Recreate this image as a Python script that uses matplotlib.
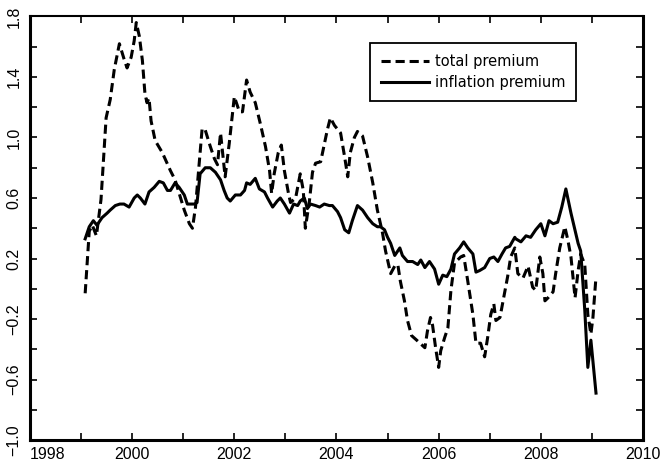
import matplotlib
matplotlib.use('Agg')
import matplotlib.pyplot as plt
from matplotlib.ticker import MultipleLocator, FixedLocator

# total premium (dashed)
total_t = [1999.08, 1999.16, 1999.22, 1999.30, 1999.39, 1999.49, 1999.57, 1999.65, 1999.75, 1999.84,
           1999.90, 1999.98, 2000.04, 2000.08, 2000.14, 2000.20, 2000.25, 2000.29, 2000.33, 2000.37,
           2000.45, 2000.59, 2000.75, 2000.84, 2000.92, 2001.02, 2001.12, 2001.18, 2001.24, 2001.37,
           2001.43, 2001.53, 2001.61, 2001.67, 2001.73, 2001.78, 2001.82, 2001.90, 2002.00, 2002.10,
           2002.16, 2002.24, 2002.31, 2002.41, 2002.51, 2002.61, 2002.69, 2002.73, 2002.78, 2002.86,
           2002.92, 2002.98, 2003.06, 2003.10, 2003.20, 2003.29, 2003.35, 2003.39, 2003.47, 2003.53,
           2003.59, 2003.69, 2003.82, 2003.88, 2003.96, 2004.08, 2004.16, 2004.22, 2004.27, 2004.35,
           2004.41, 2004.51, 2004.61, 2004.71, 2004.80, 2004.90, 2004.96, 2005.06, 2005.14, 2005.20,
           2005.25, 2005.33, 2005.39, 2005.47, 2005.57, 2005.73, 2005.78, 2005.84, 2005.88, 2005.94,
           2006.00, 2006.04, 2006.12, 2006.18, 2006.24, 2006.31, 2006.37, 2006.43, 2006.49, 2006.57,
           2006.67, 2006.73, 2006.82, 2006.90, 2006.96, 2007.02, 2007.08, 2007.12, 2007.20, 2007.29,
           2007.35, 2007.41, 2007.49, 2007.55, 2007.65, 2007.75, 2007.84, 2007.90, 2007.98, 2008.04,
           2008.08, 2008.14, 2008.24, 2008.29, 2008.37, 2008.47, 2008.53, 2008.59, 2008.67, 2008.73,
           2008.78, 2008.86, 2008.92, 2008.98, 2009.02, 2009.08]
total_v = [-0.03, 0.38, 0.42, 0.35, 0.59, 1.13, 1.25, 1.45, 1.62, 1.52,
           1.46, 1.53, 1.64, 1.76, 1.67, 1.51, 1.29, 1.23, 1.26, 1.11,
           0.98, 0.90, 0.78, 0.72, 0.63, 0.52, 0.43, 0.40, 0.54, 1.06,
           1.05, 0.94, 0.86, 0.82, 1.03, 0.87, 0.74, 0.96, 1.27, 1.17,
           1.17, 1.38, 1.30, 1.23, 1.09, 0.94, 0.78, 0.63, 0.76, 0.90,
           0.95, 0.78, 0.63, 0.57, 0.60, 0.76, 0.65, 0.40, 0.58, 0.77,
           0.83, 0.84, 1.05, 1.13, 1.08, 1.03, 0.87, 0.74, 0.90, 1.00,
           1.04, 1.01, 0.87, 0.70, 0.52, 0.37, 0.25, 0.10, 0.15, 0.16,
           0.05, -0.08, -0.21, -0.31, -0.34, -0.39, -0.28, -0.19, -0.24, -0.39,
           -0.52, -0.41, -0.32, -0.26, -0.01, 0.17, 0.19, 0.21, 0.22, 0.05,
           -0.17, -0.36, -0.36, -0.45, -0.32, -0.17, -0.10, -0.21, -0.19, -0.03,
           0.08, 0.21, 0.27, 0.10, 0.07, 0.15, 0.01, -0.01, 0.21, 0.10,
           -0.08, -0.06, -0.02, 0.10, 0.27, 0.41, 0.32, 0.21, -0.06, 0.12,
           0.23, 0.16, -0.17, -0.30, -0.19, 0.08]

# inflation premium (solid)
infl_t = [1999.08, 1999.16, 1999.24, 1999.31, 1999.41, 1999.51, 1999.57, 1999.67, 1999.76, 1999.84,
          1999.94, 2000.04, 2000.10, 2000.16, 2000.25, 2000.33, 2000.43, 2000.53, 2000.61, 2000.69,
          2000.75, 2000.84, 2000.92, 2001.02, 2001.08, 2001.22, 2001.27, 2001.33, 2001.43, 2001.53,
          2001.63, 2001.73, 2001.80, 2001.86, 2001.92, 2002.02, 2002.12, 2002.20, 2002.24, 2002.31,
          2002.41, 2002.49, 2002.59, 2002.65, 2002.75, 2002.84, 2002.90, 2002.98, 2003.08, 2003.16,
          2003.24, 2003.29, 2003.37, 2003.43, 2003.49, 2003.59, 2003.67, 2003.76, 2003.86, 2003.92,
          2004.02, 2004.08, 2004.16, 2004.24, 2004.31, 2004.41, 2004.51, 2004.61, 2004.71, 2004.80,
          2004.86, 2004.94, 2005.00, 2005.06, 2005.14, 2005.24, 2005.29, 2005.39, 2005.49, 2005.59,
          2005.65, 2005.73, 2005.82, 2005.92, 2006.00, 2006.08, 2006.16, 2006.24, 2006.31, 2006.41,
          2006.49, 2006.57, 2006.67, 2006.73, 2006.80, 2006.90, 2007.00, 2007.08, 2007.16, 2007.24,
          2007.31, 2007.39, 2007.49, 2007.51, 2007.61, 2007.71, 2007.80, 2007.90, 2008.00, 2008.08,
          2008.16, 2008.24, 2008.33, 2008.41, 2008.49, 2008.59, 2008.73, 2008.78, 2008.86, 2008.92,
          2008.98, 2009.08]
infl_v = [0.33, 0.41, 0.45, 0.42, 0.47, 0.50, 0.52, 0.55, 0.56, 0.56,
          0.54, 0.60, 0.62, 0.60, 0.56, 0.64, 0.67, 0.71, 0.70, 0.65,
          0.65, 0.70, 0.67, 0.62, 0.56, 0.56, 0.57, 0.76, 0.80, 0.80,
          0.77, 0.72, 0.65, 0.60, 0.58, 0.62, 0.62, 0.65, 0.70, 0.69,
          0.73, 0.66, 0.64, 0.60, 0.54, 0.58, 0.60, 0.56, 0.50, 0.56,
          0.55, 0.58, 0.60, 0.53, 0.56, 0.55, 0.54, 0.56, 0.55, 0.55,
          0.51, 0.47, 0.39, 0.37, 0.45, 0.55, 0.52, 0.47, 0.43, 0.41,
          0.41, 0.39, 0.34, 0.30, 0.22, 0.27, 0.22, 0.18, 0.18, 0.16,
          0.19, 0.14, 0.18, 0.13, 0.03, 0.09, 0.08, 0.13, 0.23, 0.27,
          0.31, 0.27, 0.23, 0.11, 0.12, 0.14, 0.20, 0.21, 0.18, 0.23,
          0.27, 0.28, 0.34, 0.33, 0.31, 0.35, 0.34, 0.39, 0.43, 0.35,
          0.45, 0.43, 0.44, 0.54, 0.66, 0.50, 0.30, 0.25, -0.14, -0.52,
          -0.34, -0.69]

x_ticks = [1998, 2000, 2002, 2004, 2006, 2008, 2010]
x_labels = ['1998', '2000', '2002', '2004', '2006', '2008', '2010']
y_ticks = [-1.0, -0.6, -0.2, 0.2, 0.6, 1.0, 1.4, 1.8]
y_labels = ['\u22121.0', '\u22120.6', '\u22120.2', '0.2', '0.6', '1.0', '1.4', '1.8']

plt.rcParams['font.family'] = 'Liberation Sans'

fig = plt.figure(figsize=(6.65, 4.69), dpi=100)
ax = fig.add_axes([30 / 665, 1 - 440 / 469, 613 / 665, 423.5 / 469])

ax.plot(total_t, total_v, color='black', lw=2.2, ls=(0, (3, 1.6)), label='total premium')
ax.plot(infl_t, infl_v, color='black', lw=2.2, label='inflation premium')

ax.set_xlim(1998, 2010)
ax.set_ylim(-1.0, 1.8)

ax.xaxis.set_major_locator(FixedLocator(x_ticks))
ax.xaxis.set_minor_locator(MultipleLocator(1))
ax.yaxis.set_major_locator(FixedLocator(y_ticks))
ax.yaxis.set_minor_locator(MultipleLocator(0.2))
ax.set_xticklabels(x_labels)
ax.set_yticklabels(y_labels, rotation=90, va='center')
ax.get_xticklabels()[0].set_horizontalalignment('left')

ax.tick_params(which='both', direction='in', length=5, width=1.2, top=True, right=True,
               labelsize=11.5)
ax.tick_params(axis='x', pad=5)
ax.tick_params(axis='y', pad=6)

for side in ['left', 'bottom', 'right']:
    ax.spines[side].set_linewidth(2.2)
ax.spines['top'].set_linewidth(1.5)

leg = ax.legend(loc='upper left', bbox_to_anchor=((370 - 30) / 613, (440 - 43) / 423.5),
                borderaxespad=0, fancybox=False, edgecolor='black', framealpha=1,
                handlelength=3.3, handletextpad=0.4, borderpad=0.75, labelspacing=0.45,
                prop={'family': 'DejaVu Sans', 'size': 10.5})
leg.get_frame().set_linewidth(1.3)

fig.savefig('out.png', dpi=100)
